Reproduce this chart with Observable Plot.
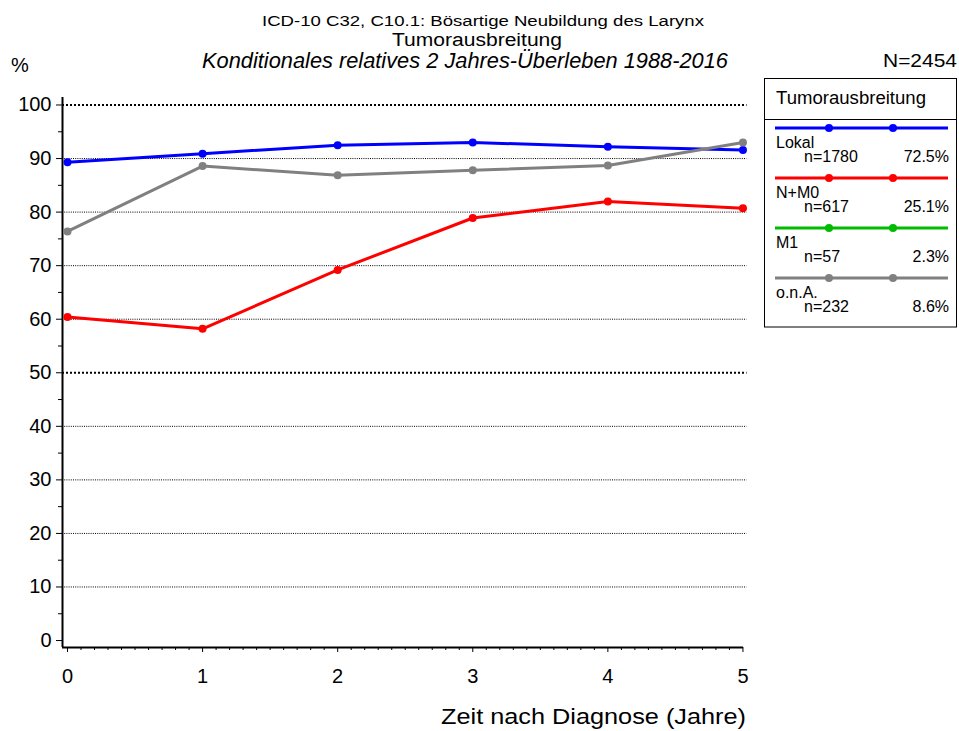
<!DOCTYPE html>
<html>
<head>
<meta charset="utf-8">
<script src="https://cdn.jsdelivr.net/npm/d3@7"></script>
<script src="https://cdn.jsdelivr.net/npm/@observablehq/plot@0.6"></script>
<style>
  html, body { margin: 0; padding: 0; background: #fff; }
  #wrap { position: relative; width: 959px; height: 731px; font-family: "Liberation Sans", Arial, sans-serif; }
  #wrap > svg { position: absolute; left: 0; top: 0; }
</style>
</head>
<body>
<div id="wrap"></div>
<script>
// ---- data ----
const years = [0, 1, 2, 3, 4, 5];
const seriesNames = ["Lokal", "N+M0", "M1", "o.n.A."];
const seriesColors = ["#0000ff", "#ff0000", "#00bb00", "#808080"];
const seriesN = ["n=1780", "n=617", "n=57", "n=232"];
const seriesPct = ["72.5%", "25.1%", "2.3%", "8.6%"];
const lokal = [89.3, 90.9, 92.5, 93.0, 92.2, 91.6];
const nm0 = [60.4, 58.2, 69.2, 78.9, 82.0, 80.7];
const m1 = [];
const ona = [76.4, 88.6, 86.9, 87.8, 88.7, 93.0];
const yTicks = [0, 10, 20, 30, 40, 50, 60, 70, 80, 90, 100];
const yMinor = [5, 15, 25, 35, 45, 55, 65, 75, 85, 95];
const xTicks = [0, 1, 2, 3, 4, 5];
const gridThin = [10, 20, 30, 40, 60, 70, 80, 90];
const gridThick = [50, 100];

const seriesValues = [lokal, nm0, m1, ona];
const rows = [];
seriesValues.forEach((vals, i) => vals.forEach((v, j) => rows.push({series: seriesNames[i], x: years[j], y: v})));
const xMinor = d3.range(0, 50).map(i => i / 10).filter(v => Math.abs(v - Math.round(v)) > 1e-9);

const xDom = [-0.037, 5.004];
const yDom = [-1.3, 101.4];

const chart = Plot.plot({
  width: 959,
  height: 731,
  marginLeft: 62,
  marginRight: 216,
  marginTop: 97,
  marginBottom: 84,
  style: {fontFamily: "'Liberation Sans', Arial, sans-serif", background: "transparent"},
  x: {domain: xDom},
  y: {domain: yDom},
  color: {domain: seriesNames, range: seriesColors},
  marks: [
    Plot.ruleY(gridThin, {y: d => d, x1: xDom[0], x2: 5.03, stroke: "#000", strokeWidth: 1, strokeDasharray: "1,1.2"}),
    Plot.ruleY(gridThick, {y: d => d, x1: xDom[0], x2: 5.03, stroke: "#000", strokeWidth: 2, strokeDasharray: "2,2"}),
    Plot.axisY(yTicks, {anchor: "left", tickSize: 6, tickPadding: 5, fontSize: 20, label: null, stroke: "#000", color: "#000"}),
    Plot.axisY(yMinor, {anchor: "left", tickSize: 4, tickFormat: () => "", label: null, stroke: "#000"}),
    Plot.axisX(xTicks, {anchor: "bottom", tickSize: 5, tickPadding: 16, fontSize: 20, tickFormat: d3.format("d"), label: null, stroke: "#000", color: "#000"}),
    Plot.axisX(xMinor, {anchor: "bottom", tickSize: 3, tickFormat: () => "", label: null, stroke: "#000"}),
    Plot.ruleX([xDom[0]], {y1: yDom[0], y2: yDom[1], stroke: "#000", strokeWidth: 2}),
    Plot.ruleY([yDom[0]], {x1: xDom[0], x2: xDom[1], stroke: "#000", strokeWidth: 2}),
    Plot.line(rows, {x: "x", y: "y", z: "series", stroke: "series", strokeWidth: 3}),
    Plot.dot(rows, {x: "x", y: "y", fill: "series", r: 4})
  ]
});
document.getElementById("wrap").appendChild(chart);

// ---- overlay: titles & legend ----
const ov = d3.select("#wrap").append("svg")
  .attr("width", 959).attr("height", 731)
  .style("font-family", "'Liberation Sans', Arial, sans-serif");

function txt(x, y, size, s, opts = {}) {
  const t = ov.append("text").attr("x", x).attr("y", y).attr("font-size", size).text(s);
  if (opts.anchor) t.attr("text-anchor", opts.anchor);
  if (opts.italic) t.attr("font-style", "italic");
  if (opts.len) t.attr("textLength", opts.len).attr("lengthAdjust", "spacingAndGlyphs");
  return t;
}
txt(262, 25.5, 15.5, "ICD-10 C32, C10.1: Bösartige Neubildung des Larynx", {len: 442});
txt(392, 45.5, 18, "Tumorausbreitung", {len: 170});
txt(202, 68, 21.5, "Konditionales relatives 2 Jahres-Überleben 1988-2016", {italic: true, len: 526});
txt(11, 72, 20, "%");
txt(883, 67, 17.7, "N=2454", {len: 74});
txt(441, 724, 22.5, "Zeit nach Diagnose (Jahre)", {len: 305});

const lg = ov.append("g");
lg.append("rect").attr("x", 764.5).attr("y", 78.5).attr("width", 192).attr("height", 248.5)
  .attr("fill", "#fff").attr("stroke", "#000").attr("stroke-width", 1);
lg.append("text").attr("x", 776).attr("y", 104).attr("font-size", 17.5)
  .attr("textLength", 150).attr("lengthAdjust", "spacingAndGlyphs").text("Tumorausbreitung");
lg.append("line").attr("x1", 764.5).attr("x2", 956.5).attr("y1", 119.5).attr("y2", 119.5).attr("stroke", "#000");
seriesNames.forEach((name, i) => {
  const y0 = 128 + i * 50;
  lg.append("line").attr("x1", 775).attr("x2", 948).attr("y1", y0).attr("y2", y0)
    .attr("stroke", seriesColors[i]).attr("stroke-width", 3);
  [829, 893].forEach(cx => lg.append("circle").attr("cx", cx).attr("cy", y0).attr("r", 4).attr("fill", seriesColors[i]));
  lg.append("text").attr("x", 776).attr("y", y0 + 20).attr("font-size", 16).text(name);
  lg.append("text").attr("x", 804).attr("y", y0 + 34).attr("font-size", 16).text(seriesN[i]);
  lg.append("text").attr("x", 949).attr("y", y0 + 34).attr("text-anchor", "end").attr("font-size", 16).text(seriesPct[i]);
});
</script>
</body>
</html>
